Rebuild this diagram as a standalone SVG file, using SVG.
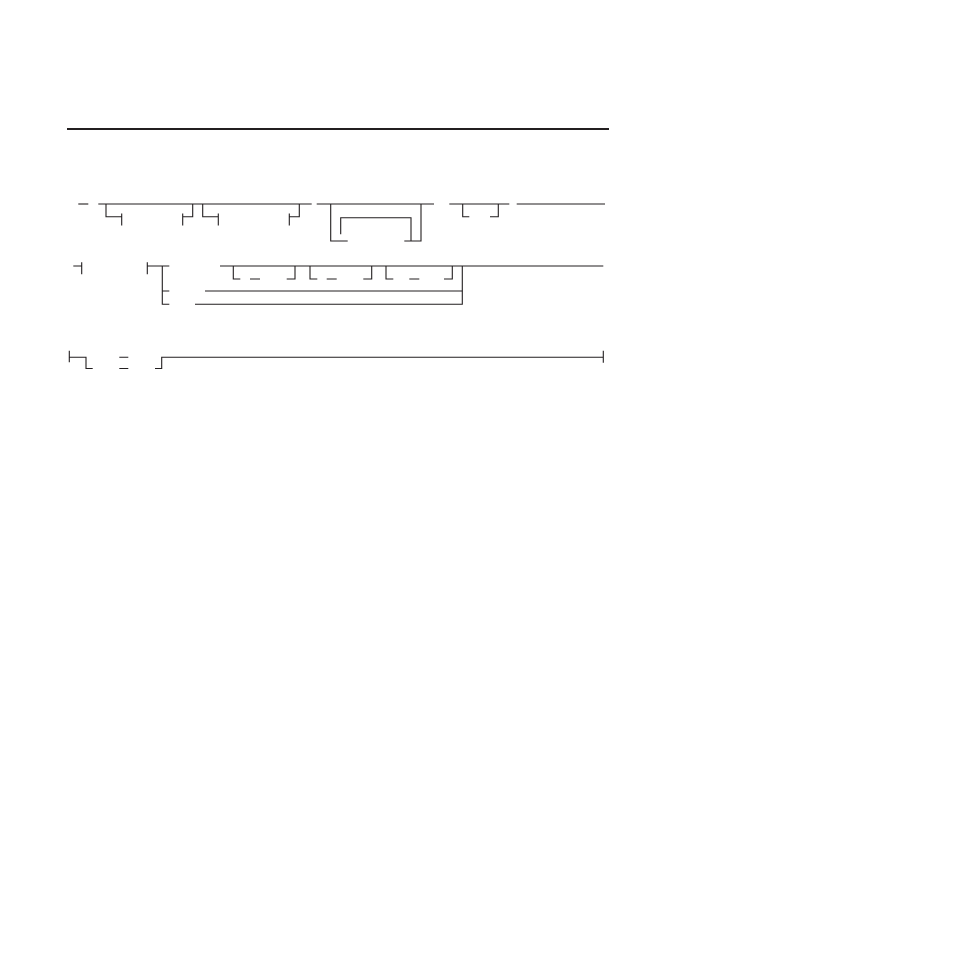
<svg xmlns="http://www.w3.org/2000/svg" width="954" height="954" viewBox="0 0 954 954">
<style>
.ln{fill:none;stroke:#231f20;stroke-width:1.1;stroke-linecap:butt;stroke-linejoin:miter}
.rule{fill:none;stroke:#231f20;stroke-width:2}
</style>
<rect width="954" height="954" fill="#fff"/>
<line class="rule" x1="67" y1="129" x2="609" y2="129"/>
<g id="connectors">
<!-- row 1 -->
<path class="ln" d="M78.3 204H88.3"/>
<path class="ln" d="M98.3 204H311.7"/>
<path class="ln" d="M106 204V216.7H121.7M121.7 213.5V225.5"/>
<path class="ln" d="M182.7 213.5V225.5M182.7 216.7H192.7V204"/>
<path class="ln" d="M202.7 204V216.7H218.3M218.3 213.5V225.5"/>
<path class="ln" d="M289.3 213.5V225.5M289.3 216.7H299.3V204"/>
<path class="ln" d="M316.7 204H434"/>
<path class="ln" d="M330.7 204V241H347.7"/>
<path class="ln" d="M404.3 241H421V204"/>
<path class="ln" d="M340.7 234.3V217.7H411V241"/>
<path class="ln" d="M449.3 204H509.3"/>
<path class="ln" d="M462.7 204V216.7H469.3"/>
<path class="ln" d="M490 216.7H498.3V204"/>
<path class="ln" d="M516.7 204H605"/>
<!-- row 2 -->
<path class="ln" d="M73.3 266H81.7M81.7 262.3V274.3"/>
<path class="ln" d="M147.3 262.3V274.3M147.3 266H169.3"/>
<path class="ln" d="M162.3 266V304.3H169.3M162.3 291H169.3"/>
<path class="ln" d="M220 266H603.3"/>
<path class="ln" d="M233.3 266V279H240.3M250 279H260M286.7 279H295V266"/>
<path class="ln" d="M310 266V279H317.3M326.7 279H336.7M363.3 279H371.7V266"/>
<path class="ln" d="M386 266V279H393.3M409.3 279H419.3M444 279H452.3V266"/>
<path class="ln" d="M205 291H462.3"/>
<path class="ln" d="M195 304.3H462.3V266"/>
<!-- row 3 -->
<path class="ln" d="M69.3 350.7V362.3M69.3 357.2H86V368.5H92.7"/>
<path class="ln" d="M119.3 357.2H128.3M119.3 368.5H128.3"/>
<path class="ln" d="M155 368.5H161.7V357.2H603.3M603.3 350.7V362.7"/>
</g>
</svg>
